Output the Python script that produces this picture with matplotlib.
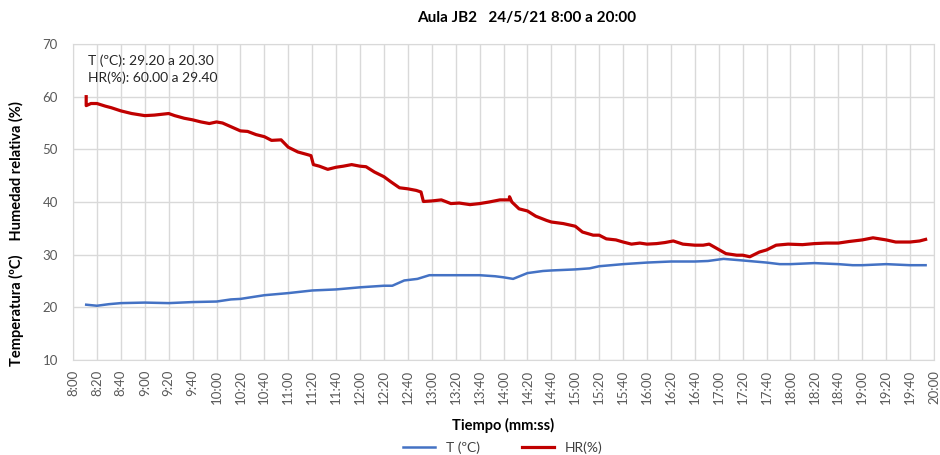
import matplotlib.pyplot as plt
import numpy as np

# lecturas aproximadas (hora, valor)
t_horas = ["8:11", "8:20", "8:30", "8:40", "9:00", "9:20", "9:40", "10:00", "10:12",
           "10:20", "10:40", "11:00", "11:20", "11:40", "12:00", "12:20", "12:27",
           "12:37", "12:48", "12:58", "13:20", "13:40", "13:53", "14:00", "14:08",
           "14:20", "14:33", "14:40", "15:00", "15:12", "15:20", "15:40", "16:00",
           "16:20", "16:40", "16:51", "17:04", "17:20", "17:40", "17:51", "18:00",
           "18:20", "18:40", "18:52", "19:00", "19:20", "19:40", "19:53"]
t_valores = [20.5, 20.3, 20.6, 20.8, 20.9, 20.8, 21.0, 21.1, 21.5,
             21.6, 22.3, 22.7, 23.2, 23.4, 23.8, 24.1, 24.1,
             25.1, 25.4, 26.1, 26.1, 26.1, 25.9, 25.7, 25.4,
             26.5, 26.9, 27.0, 27.2, 27.4, 27.8, 28.2, 28.5,
             28.7, 28.7, 28.8, 29.2, 28.9, 28.5, 28.2, 28.2,
             28.4, 28.2, 28.0, 28.0, 28.2, 28.0, 28.0]

hr_horas = ["8:11", "8:11", "8:12", "8:15", "8:20", "8:27", "8:32", "8:40", "8:49",
            "9:00", "9:08", "9:20", "9:25", "9:33", "9:40", "9:47", "9:54", "10:00",
            "10:05", "10:12", "10:20", "10:26", "10:33", "10:40", "10:46", "10:54",
            "11:00", "11:08", "11:16", "11:19", "11:21", "11:26", "11:33", "11:40",
            "11:46", "11:53", "12:00", "12:05", "12:12", "12:20", "12:26", "12:33",
            "12:40", "12:47", "12:51", "12:53", "13:00", "13:08", "13:16", "13:23",
            "13:32", "13:40", "13:48", "13:57", "14:05", "14:05", "14:07", "14:13",
            "14:20", "14:27", "14:36", "14:40", "14:50", "15:00", "15:06", "15:15",
            "15:20", "15:26", "15:34", "15:40", "15:47", "15:54", "16:00", "16:08",
            "16:15", "16:22", "16:30", "16:40", "16:47", "16:52", "17:06", "17:15",
            "17:20", "17:26", "17:34", "17:40", "17:48", "17:58", "18:10", "18:20",
            "18:30", "18:40", "18:49", "19:00", "19:09", "19:20", "19:28", "19:40",
            "19:48", "19:53"]
hr_valores = [60.0, 58.3, 58.4, 58.7, 58.7, 58.2, 57.9, 57.3, 56.8,
              56.4, 56.5, 56.8, 56.4, 55.9, 55.6, 55.2, 54.9, 55.2,
              55.0, 54.3, 53.5, 53.4, 52.8, 52.4, 51.7, 51.8,
              50.4, 49.5, 49.0, 48.8, 47.1, 46.8, 46.2, 46.6,
              46.8, 47.1, 46.8, 46.7, 45.7, 44.8, 43.8, 42.7,
              42.5, 42.2, 41.9, 40.1, 40.2, 40.4, 39.7, 39.8,
              39.5, 39.7, 40.0, 40.4, 40.4, 41.0, 40.0, 38.7,
              38.3, 37.3, 36.5, 36.2, 35.9, 35.4, 34.3, 33.7,
              33.7, 33.0, 32.8, 32.4, 32.0, 32.2, 32.0, 32.1,
              32.3, 32.6, 32.0, 31.8, 31.8, 32.0, 30.2, 29.9,
              29.9, 29.6, 30.5, 30.9, 31.8, 32.0, 31.9, 32.1,
              32.2, 32.2, 32.5, 32.8, 33.2, 32.8, 32.4, 32.4,
              32.6, 32.9]

etiquetas_x = [f"{m // 60}:{m % 60:02d}" for m in range(8 * 60, 20 * 60 + 1, 20)]


def a_minutos(h):
    hh, mm = h.split(":")
    return int(hh) * 60 + int(mm)


plt.rcParams['font.family'] = ['Lato', 'DejaVu Sans']

fig = plt.figure(figsize=(9.4, 4.55), dpi=100)
ax = fig.add_axes([0.0777, 0.2088, 0.9159, 0.6945])

ax.plot([a_minutos(h) for h in t_horas], t_valores, color='#4472C4', lw=1.8, label='T (ºC)')
ax.plot([a_minutos(h) for h in hr_horas], hr_valores, color='#C00000', lw=2.3, label='HR(%)')

ax.set_xlim(8 * 60, 20 * 60)
ax.set_ylim(10, 70)
ax.set_xticks(range(8 * 60, 20 * 60 + 1, 20))
ax.set_xticklabels(etiquetas_x, rotation=90, fontsize=9.5, color='#595959')
ax.set_yticks(range(10, 71, 10))
ax.tick_params(axis='y', labelsize=9.5, labelcolor='#595959', length=0, pad=11)
ax.tick_params(axis='x', length=0, pad=7)
ax.grid(True, color='#d9d9d9', lw=1)
ax.set_axisbelow(True)
for s in ax.spines.values():
    s.set_color('#d9d9d9')

ax.text(0.0174, 0.968, "T (ºC): 29.20 a 20.30\nHR(%): 60.00 a 29.40",
        transform=ax.transAxes, va='top', ha='left', fontsize=10, linespacing=1.5,
        color='#262626')

fig.text(0.56, 0.96, "Aula JB2   24/5/21 8:00 a 20:00", ha='center', va='center',
         fontsize=11, fontweight='bold')
ax.set_xlabel("Tiempo (mm:ss)", fontsize=10.5, fontweight='bold', labelpad=10)
fig.text(0.017, 0.486, "Temperatura (ºC)    Humedad relativa (%)", rotation=90,
         ha='center', va='center', fontsize=10.5, fontweight='bold')

fig.legend(loc='lower center', bbox_to_anchor=(0.535, -0.025), ncol=2, frameon=False,
           fontsize=10, handlelength=2.3, columnspacing=3, labelcolor='#404040')

fig.savefig('out.png', dpi=100)
